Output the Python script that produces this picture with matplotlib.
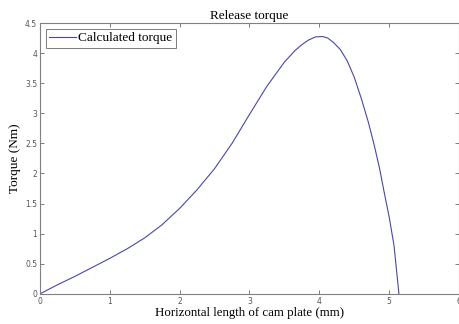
import matplotlib
matplotlib.use("Agg")
import matplotlib.pyplot as plt

x_mm = [0, 0.25, 0.5, 0.75, 1.0, 1.25, 1.5, 1.75, 2.0, 2.25, 2.5, 2.75, 3.0, 3.25,
        3.5, 3.65, 3.75, 3.85, 3.95, 4.05, 4.12, 4.2, 4.3, 4.4, 4.5, 4.6, 4.7,
        4.78, 4.86, 4.93, 5.0, 5.07, 5.14]
torque = [0, 0.15, 0.29, 0.44, 0.59, 0.75, 0.93, 1.15, 1.42, 1.73, 2.08, 2.5, 2.98, 3.45,
          3.85, 4.04, 4.14, 4.22, 4.27, 4.275, 4.25, 4.18, 4.06, 3.87, 3.6, 3.25, 2.86,
          2.5, 2.1, 1.68, 1.28, 0.8, 0]
xticks = [0, 1, 2, 3, 4, 5, 6]
yticks = [0, 0.5, 1, 1.5, 2, 2.5, 3, 3.5, 4, 4.5]
ytick_labels = ["0", "0.5", "1", "1.5", "2", "2.5", "3", "3.5", "4", "4.5"]

fig = plt.figure(figsize=(4.59, 3.24), dpi=100)
ax = fig.add_axes([0.087, 0.093, 0.913, 0.836])
ax.plot(x_mm, torque, color="#4848a8", lw=0.8, label="Calculated torque")
ax.set_xlim(0, 6)
ax.set_ylim(0, 4.5)
ax.set_xticks(xticks)
ax.set_xticklabels([str(t) for t in xticks])
ax.set_yticks(yticks)
ax.set_yticklabels(ytick_labels)
ax.tick_params(direction="in", top=True, right=True, length=3, width=0.6,
               color="#666666", labelsize=5.5, labelcolor="#555555", pad=2)
for s in ax.spines.values():
    s.set_color("#808080")
    s.set_linewidth(0.8)

serif = "Liberation Serif"
ax.set_title("Release torque", fontsize=9.5, family=serif, pad=3)
ax.set_xlabel("Horizontal length of cam plate (mm)", fontsize=9.3, family=serif, labelpad=1)
ax.set_ylabel("Torque (Nm)", fontsize=9.5, family=serif, labelpad=3)
leg = ax.legend(loc="upper left", prop={"family": serif, "size": 9.5}, fancybox=False,
                framealpha=1, edgecolor="#666666", borderpad=0.25, handlelength=2.0,
                handletextpad=0.2, borderaxespad=0.45)
leg.get_frame().set_linewidth(0.6)

fig.savefig("out.png", dpi=100)
